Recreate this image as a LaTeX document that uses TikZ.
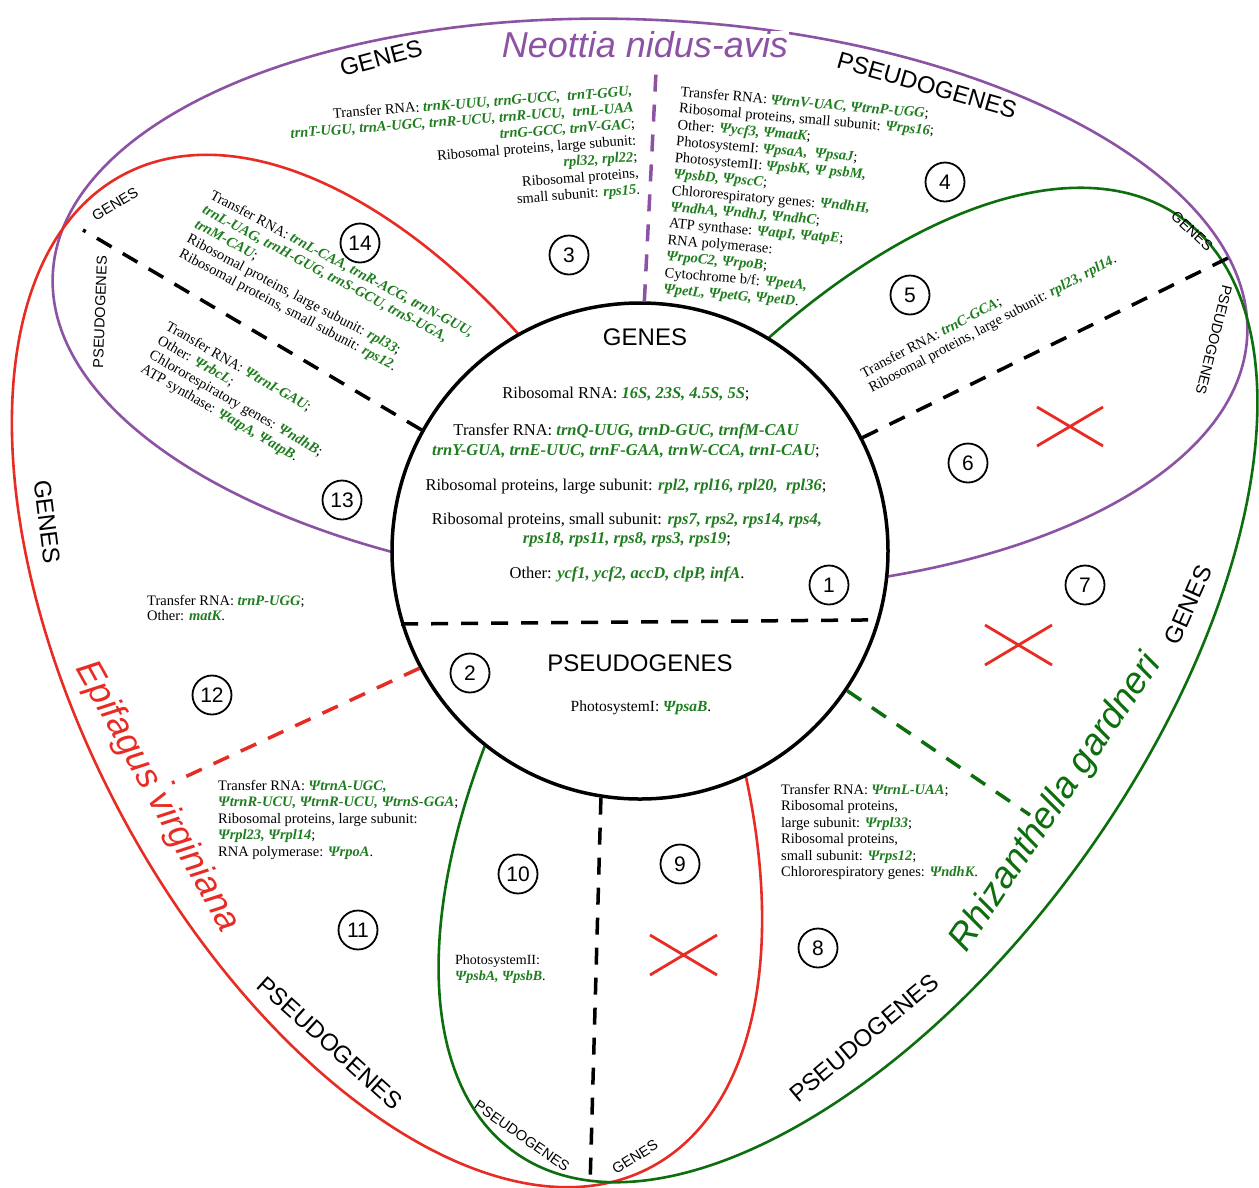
\documentclass[tikz,border=0pt]{standalone}
\usepackage{fontspec}
\setmainfont{Liberation Serif}
\newfontfamily\labfont{Liberation Sans}
\definecolor{pline}{RGB}{140,82,163}
\definecolor{rline}{RGB}{232,44,36}
\definecolor{gline}{RGB}{12,110,12}
\definecolor{gtext}{RGB}{30,125,30}
\newcommand{\gname}[1]{\textcolor{gtext}{\bfseries\itshape #1}}
\begin{document}
\begin{tikzpicture}[x=1pt,y=-1pt,
  ell/.style={line width=2.6pt},
  dsh/.style={line width=3.5pt, dash pattern=on 17pt off 13pt},
  num/.style={draw, circle, line width=1.8pt, minimum size=39pt, inner sep=0pt, font=\labfont\fontsize{21}{21}\selectfont},
  biglab/.style={font=\labfont\fontsize{24}{24}\selectfont, inner sep=0pt},
  smlab/.style={font=\labfont\fontsize{14.5}{14.5}\selectfont, inner sep=0pt},
  txt/.style={font=\fontsize{14.5}{16.5}\selectfont, inner sep=0pt},
  ctxt/.style={font=\fontsize{16.5}{20}\selectfont, inner sep=0pt, align=center},
  species/.style={font=\labfont\itshape\fontsize{36}{36}\selectfont, inner sep=1pt},
  cross/.style={rline, line width=2.8pt}]
\useasboundingbox[fill=white] (0,0) rectangle (1259,1187);

% big ovals
\draw[ell, pline, rotate around={-3:(650,305)}] (650,305) ellipse [x radius=598, y radius=285];
\draw[ell, rline, rotate around={-62:(387,671)}] (387,671) ellipse [x radius=562, y radius=302];
\draw[ell, gline, rotate around={54.5:(848,685)}] (848,685) ellipse [x radius=574, y radius=292];

% central circle
\node[draw, circle, line width=3.5pt, fill=white, minimum size=496pt, inner sep=0pt] (C) at (640,551) {};

% dividers
\coordinate (e14) at (83,230);
\coordinate (e3) at (656,72);
\coordinate (e5) at (1230,257);
\coordinate (e12) at (172,783);
\coordinate (e7) at (1030,815);
\coordinate (e9) at (590,1187);
\draw[dsh] (C.151) -- (e14);
\draw[dsh, pline] (C.89) -- (e3);
\draw[dsh] (C.27) -- (e5);
\draw[dsh] (C.197) -- (C.344);
\draw[dsh, rline] (C.208) -- (e12);
\draw[dsh, gline] (C.326) -- (e7);
\draw[dsh] (C.261) -- (e9);

% crosses
\draw[cross] (1037,407) -- (1103,446) (1037,446) -- (1103,407);
\draw[cross] (985,625) -- (1052,665) (985,665) -- (1052,625);
\draw[cross] (650,935) -- (717,975) (650,975) -- (717,935);

% species names
\node[species, pline, fill=white] (sp1) at (645,45) {Neottia nidus-avis};
\node[species, rline, rotate=-61] (sp2) at (157,797) {Epifagus virginiana};
\node[species, gline, rotate=56, font=\labfont\itshape\fontsize{37}{37}\selectfont] (sp3) at (1056,803) {Rhizanthella gardneri};

% section labels
\node[biglab] (l1) at (645,337) {GENES};
\node[biglab] (l2) at (640,663) {PSEUDOGENES};
\node[biglab, rotate=15] (l3) at (381,58) {GENES};
\node[biglab, rotate=-16] (l4) at (927,85) {PSEUDOGENES};
\node[biglab, rotate=-83] (l5) at (47,522) {GENES};
\node[biglab, rotate=-42] (l6) at (330,1043) {PSEUDOGENES};
\node[biglab, rotate=40] (l7) at (864,1038) {PSEUDOGENES};
\node[biglab, rotate=66] (l8) at (1188,605) {GENES};
\node[smlab, rotate=31] (s1) at (115,204) {GENES};
\node[smlab, rotate=88] (s2) at (100,312) {PSEUDOGENES};
\node[smlab, rotate=-43] (s3) at (1192,231) {GENES};
\node[smlab, rotate=-104] (s4) at (1214,340) {PSEUDOGENES};
\node[smlab, rotate=-35] (s5) at (522,1136) {PSEUDOGENES};
\node[smlab, rotate=32] (s6) at (635,1157) {GENES};

% numbers
\node[num] (n1) at (829,585) {1};
\node[num] (n2) at (470,673) {2};
\node[num] (n3) at (569,255) {3};
\node[num] (n4) at (945,182) {4};
\node[num] (n5) at (910,295) {5};
\node[num] (n6) at (968,463) {6};
\node[num] (n7) at (1085,585) {7};
\node[num] (n8) at (818,948) {8};
\node[num] (n9) at (680,864) {9};
\node[num] (n10) at (518,874) {10};
\node[num] (n11) at (358,930) {11};
\node[num] (n12) at (212,695) {12};
\node[num] (n13) at (342,500) {13};
\node[num] (n14) at (360,243) {14};

% central texts
\node[ctxt, anchor=base] (c1) at (626,398) {Ribosomal RNA: \gname{16S, 23S, 4.5S, 5S};};
\node[ctxt, anchor=base] (c2) at (626,435) {Transfer RNA: \gname{trnQ-UUG, trnD-GUC, trnfM-CAU}};
\node[ctxt, anchor=base] (c3) at (626,455) {\gname{trnY-GUA, trnE-UUC, trnF-GAA, trnW-CCA, trnI-CAU};};
\node[ctxt, anchor=base] (c4) at (626,490) {Ribosomal proteins, large subunit: \gname{rpl2, rpl16, rpl20,~ rpl36};};
\node[ctxt, anchor=base] (c5) at (627,524) {Ribosomal proteins, small subunit: \gname{rps7, rps2, rps14, rps4,}};
\node[ctxt, anchor=base] (c6) at (627,543) {\gname{rps18, rps11, rps8, rps3, rps19};};
\node[ctxt, anchor=base] (c7) at (627,578) {Other: \gname{ycf1, ycf2, accD, clpP, infA}.};
\node[txt, anchor=base, font=\fontsize{15.5}{18}\selectfont] (c8) at (641,711) {PhotosystemI: \gname{ΨpsaB}.};

% outer texts
\node[txt, align=right, anchor=north east, rotate=4.4] (t3) at (632,85) {Transfer RNA: \gname{trnK-UUU, trnG-UCC,~ trnT-GGU,}\\ \gname{trnT-UGU, trnA-UGC, trnR-UCU, trnR-UCU,~ trnL-UAA}\\ \gname{trnG-GCC, trnV-GAC};\\ Ribosomal proteins, large subunit:\\ \gname{rpl32, rpl22};\\ Ribosomal proteins,\\ small subunit: \gname{rps15}.};

\node[txt, align=left, anchor=north west, rotate=-5] (t4) at (681,86) {Transfer RNA: \gname{ΨtrnV-UAC, ΨtrnP-UGG};\\ Ribosomal proteins, small subunit: \gname{Ψrps16};\\ Other: \gname{Ψycf3, ΨmatK};\\ PhotosystemI: \gname{ΨpsaA,~ ΨpsaJ};\\ PhotosystemII: \gname{ΨpsbK, Ψ psbM,}\\ \gname{ΨpsbD, ΨpscC};\\ Chlororespiratory genes: \gname{ΨndhH,}\\ \gname{ΨndhA, ΨndhJ, ΨndhC};\\ ATP synthase: \gname{ΨatpI, ΨatpE};\\ RNA polymerase:\\ \gname{ΨrpoC2, ΨrpoB};\\ Cytochrome b/f: \gname{ΨpetA,}\\ \gname{ΨpetL, ΨpetG, ΨpetD}.};

\node[txt, align=left, anchor=north west, rotate=-28] (t14) at (214,189) {Transfer RNA: \gname{trnL-CAA, trnR-ACG, trnN-GUU,}\\ \gname{trnL-UAG, trnH-GUG, trnS-GCU, trnS-UGA,}\\ \gname{trnM-CAU};\\ Ribosomal proteins, large subunit: \gname{rpl33};\\ Ribosomal proteins, small subunit: \gname{rps12}.};

\node[txt, align=left, anchor=north west, rotate=-30] (t13) at (170,320) {Transfer RNA: \gname{ΨtrnI-GAU};\\ Other: \gname{ΨrbcL};\\ Chlororespiratory genes: \gname{ΨndhB};\\ ATP synthase: \gname{ΨatpA, ΨatpB}.};

\node[txt, align=left, anchor=north west, rotate=28] (t5) at (859,369) {Transfer RNA: \gname{trnC-GCA};\\ Ribosomal proteins, large subunit: \gname{rpl23, rpl14}.};

\node[txt, align=left, anchor=north west, font=\fontsize{14.5}{15.5}\selectfont] (t12) at (147,595) {Transfer RNA: \gname{trnP-UGG};\\ Other: \gname{matK}.};

\node[txt, align=left, anchor=north west] (t11) at (218,780) {Transfer RNA: \gname{ΨtrnA-UGC,}\\ \gname{ΨtrnR-UCU, ΨtrnR-UCU, ΨtrnS-GGA};\\ Ribosomal proteins, large subunit:\\ \gname{Ψrpl23, Ψrpl14};\\ RNA polymerase: \gname{ΨrpoA}.};

\node[txt, align=left, anchor=north west] (t8) at (781,784) {Transfer RNA: \gname{ΨtrnL-UAA};\\ Ribosomal proteins,\\ large subunit: \gname{Ψrpl33};\\ Ribosomal proteins,\\ small subunit: \gname{Ψrps12};\\ Chlororespiratory genes: \gname{ΨndhK}.};

\node[txt, align=left, anchor=north west, font=\fontsize{14}{15.5}\selectfont] (t10) at (455,955) {PhotosystemII:\\ \gname{ΨpsbA, ΨpsbB}.};
\end{tikzpicture}
\end{document}
